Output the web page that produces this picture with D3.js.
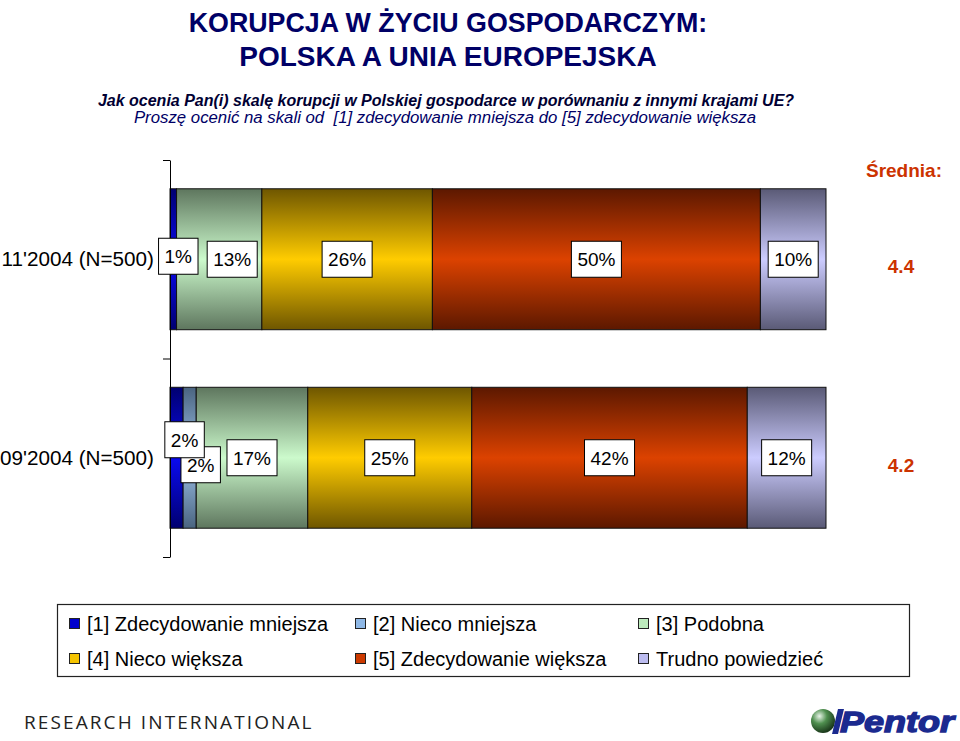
<!DOCTYPE html>
<meta charset="utf-8">
<html lang="pl">
<head>
<title>Korupcja w życiu gospodarczym</title>
<style>
  html, body { margin: 0; padding: 0; background: #fff; }
  svg { display: block; font-family: Arial, "Liberation Sans", sans-serif; }
</style>
</head>
<body>
<div id="chart"></div>

<script src="https://d3js.org/d3.v7.min.js"></script>
<script>
// --- data ---
const categories = ["11'2004 (N=500)", "09'2004 (N=500)"];
const seriesNames = ["[1] Zdecydowanie mniejsza", "[2] Nieco mniejsza", "[3] Podobna",
                     "[4] Nieco większa", "[5] Zdecydowanie większa", "Trudno powiedzieć"];
const nov2004 = [1, 0, 13, 26, 50, 10];
const sep2004 = [2, 2, 17, 25, 42, 12];
const means = [4.4, 4.2];

// colours: [edge, centre] of the cylinder-like gradient
const seriesColors = [
  ["#000070", "#0a0af0"],
  ["#4a6480", "#a0c4ec"],
  ["#5e765e", "#ccfacc"],
  ["#6e5600", "#ffcc00"],
  ["#5c1800", "#dc4200"],
  ["#5a5a76", "#ccccff"]
];
const legendColors = ["#0000cc", "#8fb8e6", "#bdebbd", "#f5c400", "#cc3a00", "#bcbcf0"];

// small label nudges where Excel moved overlapping labels ("bar-series": [dx, dy])
const labelNudge = { "0-0": [5, -3], "0-2": [13, 0], "1-0": [8, -18], "1-1": [11, 7] };

const W = 960, H = 741;
const svg = d3.select("#chart").append("svg")
    .attr("width", W).attr("height", H);

const defs = svg.append("defs");
seriesColors.forEach(function (c, i) {
  var g = defs.append("linearGradient").attr("id", "g" + i)
      .attr("x1", 0).attr("y1", 0).attr("x2", 0).attr("y2", 1);
  g.append("stop").attr("offset", "0%").attr("stop-color", c[0]);
  g.append("stop").attr("offset", "50%").attr("stop-color", c[1]);
  g.append("stop").attr("offset", "100%").attr("stop-color", c[0]);
});

// titles
svg.append("g").attr("font-weight", "bold").attr("fill", "#000066")
    .attr("text-anchor", "middle")
  .selectAll("text").data(["KORUPCJA W ŻYCIU GOSPODARCZYM:", "POLSKA A UNIA EUROPEJSKA"])
  .enter().append("text")
    .attr("x", 448).attr("y", (d, i) => 32 + i * 34)
    .attr("font-size", (d, i) => i ? 28 : 26.8)
    .text(d => d);

svg.append("text").attr("x", 446).attr("y", 106).attr("text-anchor", "middle")
    .attr("font-size", 16).attr("font-weight", "bold").attr("font-style", "italic")
    .attr("fill", "#000033")
    .text("Jak ocenia Pan(i) skalę korupcji w Polskiej gospodarce w porównaniu z innymi krajami UE?");
svg.append("text").attr("x", 445).attr("y", 123).attr("text-anchor", "middle")
    .attr("font-size", 16.8).attr("font-style", "italic").attr("fill", "#000066")
    .attr("xml:space", "preserve")
    .text("Proszę ocenić na skali od  [1] zdecydowanie mniejsza do [5] zdecydowanie większa");

// scales
const x = d3.scaleLinear().domain([0, 100]).range([170, 826]);
const y = d3.scaleBand().domain(categories).range([160, 557])
    .paddingInner(0.29).paddingOuter(0.145);

const rows = [nov2004, sep2004];
const table = categories.map(function (c, i) {
  var row = { cat: c };
  seriesNames.forEach(function (s, j) { row[s] = rows[i][j]; });
  return row;
});
const stacked = d3.stack().keys(seriesNames)(table);

// bars
const layer = svg.append("g").selectAll("g").data(stacked).enter().append("g")
    .attr("fill", (d, i) => "url(#g" + i + ")");
layer.selectAll("rect").data(d => d.filter(p => p[1] > p[0])).enter().append("rect")
    .attr("x", d => x(d[0]))
    .attr("y", d => y(d.data.cat))
    .attr("width", d => x(d[1]) - x(d[0]))
    .attr("height", y.bandwidth())
    .attr("stroke", "#111").attr("stroke-width", 1);

// axis with ticks between the categories
const axisScale = d3.scaleLinear().domain([0, categories.length]).range([160, 557]);
svg.append("g").attr("transform", "translate(170,0)")
    .call(d3.axisLeft(axisScale).tickValues(d3.range(categories.length + 1))
      .tickSize(7).tickSizeOuter(0).tickFormat(""))
    .call(g => g.selectAll("path, line").attr("stroke", "#000"));

svg.append("g").attr("font-size", 20.7).attr("text-anchor", "end")
  .selectAll("text").data(categories).enter().append("text")
    .attr("x", 154).attr("y", d => y(d) + y.bandwidth() / 2 + 7)
    .text(d => d);

// value labels (drawn back to front so earlier series sit on top)
const labels = [];
stacked.forEach(function (s, j) {
  s.forEach(function (p, i) {
    if (p[1] > p[0]) {
      var n = labelNudge[i + "-" + j] || [0, 0];
      labels.push({
        text: (p[1] - p[0]) + "%",
        cx: (x(p[0]) + x(p[1])) / 2 + n[0],
        cy: y(p.data.cat) + y.bandwidth() / 2 + n[1]
      });
    }
  });
});
const lab = svg.append("g").selectAll("g").data(labels.reverse()).enter().append("g");
lab.append("rect").attr("fill", "#fff").attr("stroke", "#000").attr("stroke-width", 1);
lab.append("text").attr("font-size", 19).attr("text-anchor", "middle")
    .attr("x", d => d.cx).attr("y", d => d.cy + 7)
    .text(d => d.text);
lab.each(function (d) {
  var w = d3.select(this).select("text").node().getComputedTextLength() + 12;
  d3.select(this).select("rect")
      .attr("x", d.cx - w / 2).attr("y", d.cy - 18)
      .attr("width", w).attr("height", 36);
});

// averages
svg.append("text").attr("x", 942).attr("y", 177).attr("text-anchor", "end")
    .attr("font-size", 19).attr("font-weight", "bold").attr("fill", "#cc3300")
    .text("Średnia:");
svg.append("g").attr("font-size", 19).attr("font-weight", "bold").attr("fill", "#cc3300")
    .attr("text-anchor", "middle")
  .selectAll("text").data(means).enter().append("text")
    .attr("x", 901).attr("y", (d, i) => y(categories[i]) + y.bandwidth() / 2 + 14)
    .text(d => d.toFixed(1));

// legend
svg.append("rect").attr("x", 57.5).attr("y", 604.5).attr("width", 852).attr("height", 72)
    .attr("fill", "#fff").attr("stroke", "#222").attr("stroke-width", 1.2);
const colX = [69, 355, 638], rowY = [618, 653];
const leg = svg.append("g").selectAll("g").data(seriesNames).enter().append("g")
    .attr("transform", (d, i) => "translate(" + colX[i % 3] + "," + rowY[Math.floor(i / 3)] + ")");
leg.append("rect").attr("x", 0.5).attr("y", 0.5).attr("width", 10).attr("height", 10)
    .attr("fill", (d, i) => legendColors[i]).attr("stroke", "#222");
leg.append("text").attr("x", 18).attr("y", 12.5).attr("font-size", 20).text(d => d);

// footer logos
svg.append("text").attr("x", 24).attr("y", 729).attr("font-family", "'Open Sans', sans-serif")
    .attr("font-size", 19).attr("letter-spacing", 2.1).attr("fill", "#222")
    .text("RESEARCH INTERNATIONAL");

const sph = defs.append("radialGradient").attr("id", "sphere")
    .attr("cx", "35%").attr("cy", "30%").attr("r", "70%");
sph.append("stop").attr("offset", "0%").attr("stop-color", "#e8f4e8");
sph.append("stop").attr("offset", "45%").attr("stop-color", "#4f8f4f");
sph.append("stop").attr("offset", "100%").attr("stop-color", "#1c3a1c");
svg.append("circle").attr("cx", 823).attr("cy", 721).attr("r", 12).attr("fill", "url(#sphere)");
svg.append("path").attr("d", "M832,734 L838,709 L844,709 L838,734 Z").attr("fill", "#1b2a8f");
svg.append("text").attr("x", 840).attr("y", 732)
    .attr("font-family", "'Liberation Sans', Arial, sans-serif")
    .attr("font-size", 30).attr("font-weight", "bold").attr("font-style", "italic")
    .attr("textLength", 114).attr("lengthAdjust", "spacingAndGlyphs")
    .attr("fill", "#1b2a8f").attr("stroke", "#1b2a8f").attr("stroke-width", 1.4)
    .text("Pentor");
</script>
</body>
</html>
